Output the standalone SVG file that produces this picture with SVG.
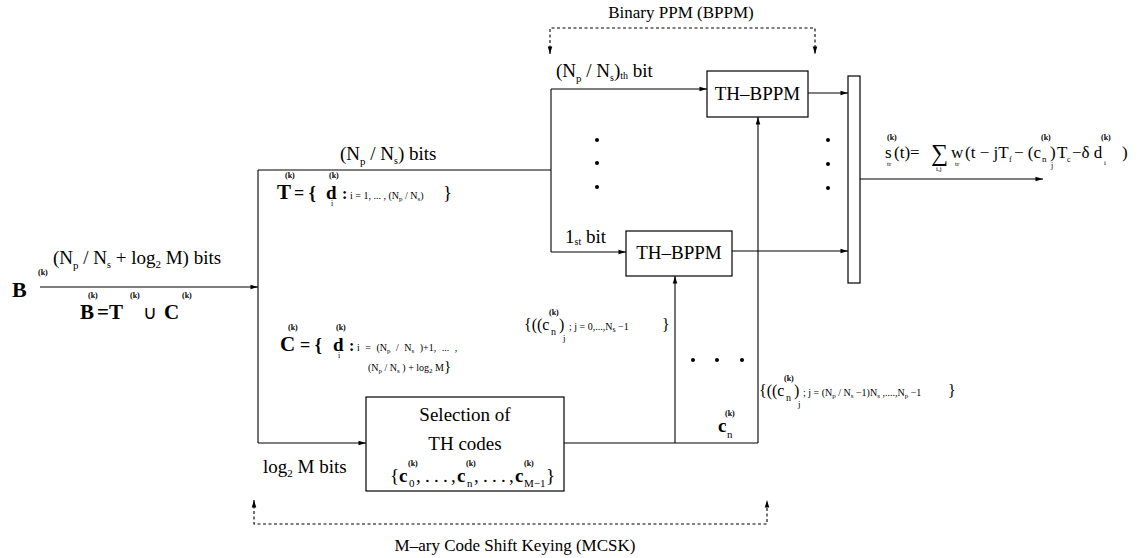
<svg xmlns="http://www.w3.org/2000/svg" width="1140" height="558" viewBox="0 0 1140 558">
<defs>
<style>
.t{font-family:"Liberation Serif","Times New Roman",serif;fill:#000}
.b{font-weight:bold}
.k{font-family:"Liberation Serif",serif;font-size:8px;font-weight:bold;fill:#000}
.sm{font-family:"Liberation Serif",serif;font-size:10px;fill:#000}
.ln{stroke:#000;stroke-width:1.1;fill:none}
.ds{stroke:#000;stroke-width:1.1;fill:none;stroke-dasharray:3 2.5}
.box{fill:#fff;stroke:#000;stroke-width:1.2}
.dot{fill:#000}
</style>
<marker id="ah" viewBox="0 0 10 8" refX="10" refY="4" markerWidth="9" markerHeight="6" markerUnits="userSpaceOnUse" orient="auto-start-reverse"><path d="M0,1 L10,4 L0,7 z" fill="#000"/></marker>
</defs>
<rect width="1140" height="558" fill="#fff"/>

<g id="connectors">
<path class="ln" d="M40,287 H258" marker-end="url(#ah)"/>
<path class="ln" d="M258,170 V443"/>
<path class="ln" d="M258,170 H551"/>
<path class="ln" d="M551,89 V252"/>
<path class="ln" d="M551,89 H707" marker-end="url(#ah)"/>
<path class="ln" d="M551,252 H626" marker-end="url(#ah)"/>
<path class="ln" d="M808,93 H848" marker-end="url(#ah)"/>
<path class="ln" d="M732,251 H848" marker-end="url(#ah)"/>
<path class="ln" d="M860,179 H1043" marker-end="url(#ah)"/>
<path class="ln" d="M258,443 H366" marker-end="url(#ah)"/>
<path class="ln" d="M564,443 H758"/>
<path class="ln" d="M675,443 V276" marker-end="url(#ah)"/>
<path class="ln" d="M758,443 V117" marker-end="url(#ah)"/>
<path class="ds" d="M550,54 V28 H815 V54" marker-start="url(#ah)" marker-end="url(#ah)"/>
<path class="ds" d="M254,500 V524 H767 V500" marker-start="url(#ah)" marker-end="url(#ah)"/>
</g>

<g id="th-bppm-top">
<rect class="box" x="707" y="71" width="101" height="46"/>
<text class="t" x="757.5" y="100" font-size="19" text-anchor="middle">TH–BPPM</text>
</g>
<g id="th-bppm-low">
<rect class="box" x="626" y="231" width="106" height="45"/>
<text class="t" x="679" y="259" font-size="19" text-anchor="middle">TH–BPPM</text>
</g>
<g id="selection">
<rect class="box" x="366" y="397" width="198" height="94" stroke-width="1.6"/>
<text class="t" x="465" y="421" font-size="19" text-anchor="middle">Selection of</text>
<text class="t" x="465" y="450" font-size="19" text-anchor="middle">TH codes</text>
<text class="t" x="390" y="482" font-size="19">{</text>
<text class="t b" x="399" y="482" font-size="19">c</text>
<text class="t" x="409" y="487" font-size="11">0</text>
<text class="k" x="408" y="466">(k)</text>
<text class="t" x="416 425 434 443 451" y="482" font-size="19">,...,</text>
<text class="t b" x="457" y="482" font-size="19">c</text>
<text class="t" x="467" y="487" font-size="11">n</text>
<text class="k" x="466" y="466">(k)</text>
<text class="t" x="474 483 492 501 509" y="482" font-size="19">,...,</text>
<text class="t b" x="515" y="482" font-size="19">c</text>
<text class="t" x="524" y="487" font-size="11">M−1</text>
<text class="k" x="524" y="466">(k)</text>
<text class="t" x="546" y="482" font-size="19">}</text>
</g>
<g id="mux">
<rect class="box" x="848" y="76" width="12" height="207"/>
</g>

<g id="dots">
<circle class="dot" cx="597" cy="140" r="2"/>
<circle class="dot" cx="597" cy="163" r="2"/>
<circle class="dot" cx="597" cy="187" r="2"/>
<circle class="dot" cx="828" cy="140" r="2"/>
<circle class="dot" cx="828" cy="164" r="2"/>
<circle class="dot" cx="828" cy="188" r="2"/>
<circle class="dot" cx="693" cy="360" r="2"/>
<circle class="dot" cx="717" cy="360" r="2"/>
<circle class="dot" cx="742" cy="360" r="2"/>
</g>

<g id="labels">
<text class="t" x="681" y="18" font-size="17" text-anchor="middle">Binary PPM (BPPM)</text>
<text class="t" x="515" y="551" font-size="17" text-anchor="middle">M–ary Code Shift Keying (MCSK)</text>

<text class="t b" x="12" y="297" font-size="22">B</text>
<text class="k" x="38" y="275">(k)</text>
<text class="t" x="53" y="264" font-size="19">(N<tspan font-size="11" dy="5">p</tspan><tspan dy="-5"> / N</tspan><tspan font-size="10" dy="4">s</tspan><tspan dy="-4"> + log</tspan><tspan font-size="11" dy="4">2</tspan><tspan dy="-4"> M) bits</tspan></text>
<text class="t b" x="80" y="319" font-size="21">B</text>
<text class="k" x="88" y="298">(k)</text>
<text class="t b" x="97" y="319" font-size="21">=</text>
<text class="t b" x="109" y="319" font-size="21">T</text>
<text class="k" x="130" y="298">(k)</text>
<text class="t" x="143" y="319" font-size="19">∪</text>
<text class="t b" x="164" y="319" font-size="21">C</text>
<text class="k" x="182" y="298">(k)</text>

<text class="t" x="340" y="160" font-size="19">(N<tspan font-size="11" dy="5">p</tspan><tspan dy="-5"> / N</tspan><tspan font-size="10" dy="4">s</tspan><tspan dy="-4">) bits</tspan></text>
<text class="t b" x="277" y="199" font-size="21">T</text>
<text class="k" x="285" y="178">(k)</text>
<text class="t b" x="294" y="199" font-size="18">= {</text>
<text class="t b" x="326" y="199" font-size="19">d</text>
<text class="k" x="329" y="178">(k)</text>
<text class="t" x="331" y="206" font-size="8">i</text>
<text class="t b" x="342" y="199" font-size="16">:</text>
<text class="sm" x="350" y="199">i = 1, ... , (N<tspan font-size="7" dy="2">p</tspan><tspan dy="-2"> / N</tspan><tspan font-size="7" dy="2">s</tspan><tspan dy="-2">)</tspan></text>
<text class="t" x="443" y="199" font-size="19">}</text>

<text class="t" x="556" y="77" font-size="19">(N<tspan font-size="11" dy="5">p</tspan><tspan dy="-5"> / N</tspan><tspan font-size="10" dy="4">s</tspan><tspan dy="-4">)</tspan><tspan font-size="10" dy="2">th</tspan><tspan dy="-2">  bit</tspan></text>
<text class="t" x="565" y="243" font-size="19">1<tspan font-size="10" dy="2">st</tspan><tspan dy="-2"> bit</tspan></text>

<text class="t b" x="280" y="351" font-size="21">C</text>
<text class="k" x="288" y="330">(k)</text>
<text class="t b" x="300" y="351" font-size="18">= {</text>
<text class="t b" x="333" y="351" font-size="19">d</text>
<text class="k" x="336" y="330">(k)</text>
<text class="t" x="338" y="358" font-size="8">i</text>
<text class="t b" x="349" y="351" font-size="16">:</text>
<text class="sm" x="357" y="351" word-spacing="3">i = (N<tspan font-size="7" dy="2">p</tspan><tspan dy="-2"> / N</tspan><tspan font-size="7" dy="2">s</tspan><tspan dy="-2"> )+1, ... ,</tspan></text>
<text class="sm" x="368" y="371">(N<tspan font-size="7" dy="2">p</tspan><tspan dy="-2"> / N</tspan><tspan font-size="7" dy="2">s</tspan><tspan dy="-2"> ) + log</tspan><tspan font-size="7" dy="2">2</tspan><tspan dy="-2"> M</tspan><tspan font-size="15">}</tspan></text>

<text class="t" x="263" y="473" font-size="19">log<tspan font-size="11" dy="4">2</tspan><tspan dy="-4"> M bits</tspan></text>

<text class="t b" x="718" y="432" font-size="19">c</text>
<text class="k" x="725" y="416">(k)</text>
<text class="t" x="727" y="438" font-size="11">n</text>

<text class="t" x="524" y="330" font-size="16">{((c</text>
<text class="t" x="551" y="335" font-size="10">n</text>
<text class="k" x="549" y="315">(k)</text>
<text class="t" x="559" y="330" font-size="16">)</text>
<text class="t" x="563" y="341" font-size="9">j</text>
<text class="sm" x="569" y="330" font-size="12">; j = 0,...,N<tspan font-size="8" dy="2">s</tspan><tspan dy="-2"> −1</tspan></text>
<text class="t" x="662" y="330" font-size="16">}</text>

<text class="t" x="759" y="396" font-size="16">{((c</text>
<text class="t" x="786" y="401" font-size="10">n</text>
<text class="k" x="784" y="381">(k)</text>
<text class="t" x="794" y="396" font-size="16">)</text>
<text class="t" x="798" y="407" font-size="9">j</text>
<text class="sm" x="803" y="396" font-size="11">; j = (N<tspan font-size="7" dy="2">p</tspan><tspan dy="-2"> / N</tspan><tspan font-size="7" dy="2">s</tspan><tspan dy="-2"> −1)N</tspan><tspan font-size="7" dy="2">s</tspan><tspan dy="-2"> ,....,N</tspan><tspan font-size="7" dy="2">p</tspan><tspan dy="-2"> −1</tspan></text>
<text class="t" x="948" y="396" font-size="16">}</text>

<text class="t" x="885" y="158" font-size="17">s</text>
<text class="k" x="887" y="140">(k)</text>
<text class="t" x="887" y="166" font-size="7">tr</text>
<text class="t" x="894" y="158" font-size="17">(t)=</text>
<text class="t" x="931" y="161" font-size="24">∑</text>
<text class="t" x="936" y="171" font-size="7">i,j</text>
<text class="t" x="951" y="158" font-size="17">w</text>
<text class="t" x="955" y="166" font-size="7">tr</text>
<text class="t" x="965" y="158" font-size="17">(t − jT</text>
<text class="t" x="1009" y="162" font-size="8">f</text>
<text class="t" x="1014" y="158" font-size="17">− (c</text>
<text class="k" x="1041" y="140">(k)</text>
<text class="t" x="1042" y="162" font-size="9">n</text>
<text class="t" x="1050" y="158" font-size="17">)</text>
<text class="t" x="1051" y="168" font-size="8">j</text>
<text class="t" x="1057" y="158" font-size="17">T</text>
<text class="t" x="1067" y="162" font-size="8">c</text>
<text class="t" x="1072" y="158" font-size="17">−δ d</text>
<text class="k" x="1101" y="140">(k)</text>
<text class="t" x="1104" y="165" font-size="7">i</text>
<text class="t" x="1122" y="158" font-size="17">)</text>
</g>
</svg>
